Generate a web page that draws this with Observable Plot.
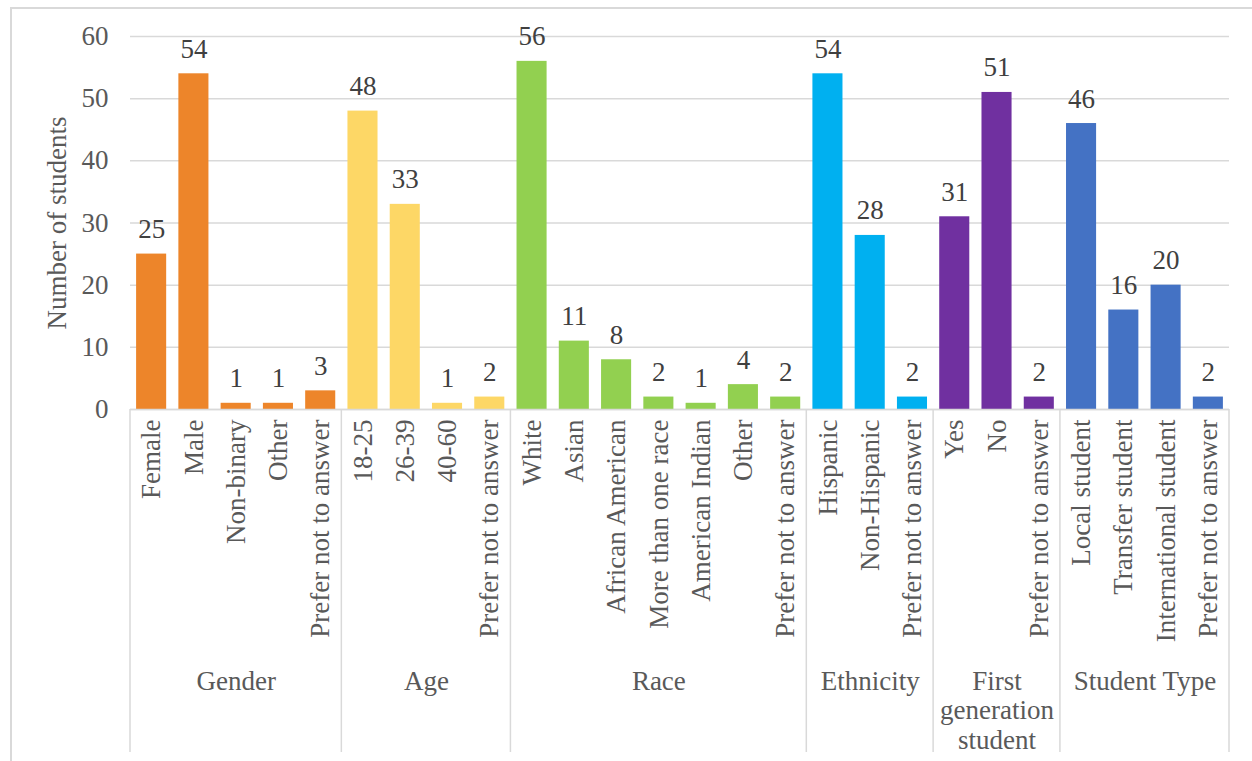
<!DOCTYPE html>
<html>
<head>
<meta charset="utf-8">
<script src="https://cdn.jsdelivr.net/npm/d3@7"></script>
<script src="https://cdn.jsdelivr.net/npm/@observablehq/plot@0.6"></script>
<style>
  html, body { margin: 0; padding: 0; background: #fff; overflow: hidden; }
  #frame { position: absolute; left: 10px; top: 7px; width: 1260px; height: 780px; border: 2px solid #d9d9d9; box-sizing: border-box; }
  #chart { position: absolute; left: 0; top: 0; }
</style>
</head>
<body>
<div id="frame"></div>
<div id="chart"></div>
<script>
const groups = ["Gender", "Age", "Race", "Ethnicity", "First\ngeneration\nstudent", "Student Type"];
const groupColors = ["#ED852A", "#FDD766", "#92D050", "#00B0F0", "#7030A0", "#4472C4"];
const groupSizes = [5, 4, 7, 3, 3, 4];
const categories = [
  "Female", "Male", "Non-binary", "Other", "Prefer not to answer",
  "18-25", "26-39", "40-60", "Prefer not to answer",
  "White", "Asian", "African American", "More than one race", "American Indian", "Other", "Prefer not to answer",
  "Hispanic", "Non-Hispanic", "Prefer not to answer",
  "Yes", "No", "Prefer not to answer",
  "Local student", "Transfer student", "International student", "Prefer not to answer"
];
const counts = [25, 54, 1, 1, 3, 48, 33, 1, 2, 56, 11, 8, 2, 1, 4, 2, 54, 28, 2, 31, 51, 2, 46, 16, 20, 2];
const yTicks = [0, 10, 20, 30, 40, 50, 60];

// build tables
const bars = [];
const groupRows = [];
let k = 0;
groupSizes.forEach((n, g) => {
  groupRows.push({group: groups[g], start: k, end: k + n, mid: k + n / 2});
  for (let j = 0; j < n; j++, k++) {
    bars.push({i: k, label: categories[k], value: counts[k], group: groups[g], color: groupColors[g]});
  }
});
const boundaries = [0, ...groupRows.map(d => d.end)];

const font = "'Liberation Serif', 'Times New Roman', serif";
const FS = 27;

const plot = Plot.plot({
  width: 1252,
  height: 761,
  marginLeft: 130,
  marginRight: 23,
  marginTop: 36,
  marginBottom: 352,
  style: {fontFamily: font, fontSize: FS + "px", color: "#595959", background: "transparent"},
  x: {domain: [0, bars.length], axis: null},
  y: {domain: [0, 60], axis: null},
  marks: [
    Plot.gridY(yTicks, {stroke: "#d9d9d9", strokeOpacity: 1, strokeWidth: 1.5}),
    Plot.axisY(yTicks, {tickSize: 0, tickPadding: 22, fontSize: FS, fill: "#595959", label: null}),
    Plot.text(["Number of students"], {frameAnchor: "left", textAnchor: "middle", rotate: -90, dx: -73, fontSize: FS, fill: "#595959"}),
    Plot.rectY(bars, {x1: "i", x2: d => d.i + 1, y: "value", fill: "color", insetLeft: 6.1, insetRight: 6.1}),
    Plot.ruleY([0], {stroke: "#d9d9d9", strokeWidth: 1.5}),
    Plot.text(bars, {x: d => d.i + 0.5, y: "value", text: d => String(d.value), lineAnchor: "bottom", dy: -16, fontSize: FS, fill: "#404040"}),
    Plot.axisX(bars.map(d => d.i + 0.5), {
      tickSize: 0, tickPadding: 10, tickRotate: -90, fontSize: FS, fill: "#595959", label: null,
      tickFormat: d => categories[Math.floor(d)]
    }),
    Plot.text(groupRows, {x: "mid", frameAnchor: "bottom", text: "group", dy: 259, lineAnchor: "top", lineHeight: 1.1, fontSize: FS, fill: "#595959"})
  ]
});

// category separators extending below the axis
const xs = plot.scale("x");
const svg = d3.select(plot);
svg.append("g")
  .selectAll("line")
  .data(boundaries)
  .join("line")
  .attr("x1", d => xs.apply(d))
  .attr("x2", d => xs.apply(d))
  .attr("y1", 409)
  .attr("y2", 752)
  .attr("stroke", "#d9d9d9")
  .attr("stroke-width", 1.5);

document.getElementById("chart").appendChild(plot);
</script>
</body>
</html>
